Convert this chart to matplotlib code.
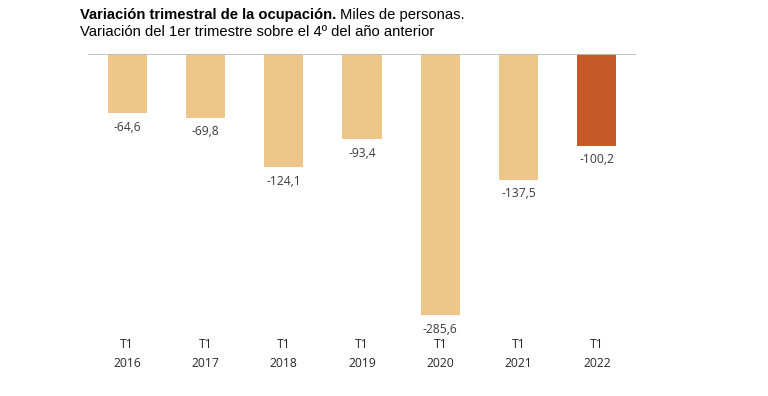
import matplotlib
matplotlib.use("Agg")
import matplotlib.pyplot as plt
from matplotlib.transforms import blended_transform_factory

categories = ["T1\n2016", "T1\n2017", "T1\n2018", "T1\n2019", "T1\n2020", "T1\n2021", "T1\n2022"]
values = [-64.6, -69.8, -124.1, -93.4, -285.6, -137.5, -100.2]
labels = ["-64,6", "-69,8", "-124,1", "-93,4", "-285,6", "-137,5", "-100,2"]

W, H = 768, 396
fig = plt.figure(figsize=(W / 100, H / 100), dpi=100)
ax_left, ax_right, ax_top, ax_bottom = 88, 636, 54, 320
ax = fig.add_axes([ax_left / W, 1 - ax_bottom / H, (ax_right - ax_left) / W, (ax_bottom - ax_top) / H])

colors = ["#EDC68A"] * 6 + ["#C55A28"]
x = list(range(len(values)))
ax.bar(x, values, width=0.5, color=colors, zorder=2)
ax.axhline(0, color="#BFBFBF", lw=1.3, zorder=3)
ax.set_xlim(-0.5, len(values) - 0.5)
ax.set_ylim(-291, 0)

for xi, v, lab in zip(x, values, labels):
    ax.annotate(lab, (xi, v), xytext=(0, -14), textcoords="offset pixels",
                ha="center", va="center", fontsize=8.7, color="#3A3A3A",
                family="Open Sans")

for s in ax.spines.values():
    s.set_visible(False)
ax.set_yticks([])
ax.set_xticks([])

trans = blended_transform_factory(ax.transData, fig.transFigure)
for xi, c in zip(x, categories):
    ax.text(xi, 1 - 354 / H, c, transform=trans, ha="center", va="center",
            fontsize=8.7, color="#262626", family="Open Sans", linespacing=1.6)

bold = fig.text(80 / W, 1 - 15 / H, "Variación trimestral de la ocupación.", fontsize=10.6,
                fontweight="bold", family="Liberation Sans", va="center", ha="left", color="#000000")
fig.canvas.draw()
bb = bold.get_window_extent()
fig.text((bb.x1 + 4) / W, 1 - 15 / H, "Miles de personas.", fontsize=10.6,
         family="Liberation Sans", va="center", ha="left", color="#000000")
fig.text(80 / W, 1 - 32 / H, "Variación del 1er trimestre sobre el 4º del año anterior", fontsize=10.6,
         family="Liberation Sans", va="center", ha="left", color="#000000")

fig.savefig("out.png", dpi=100)
